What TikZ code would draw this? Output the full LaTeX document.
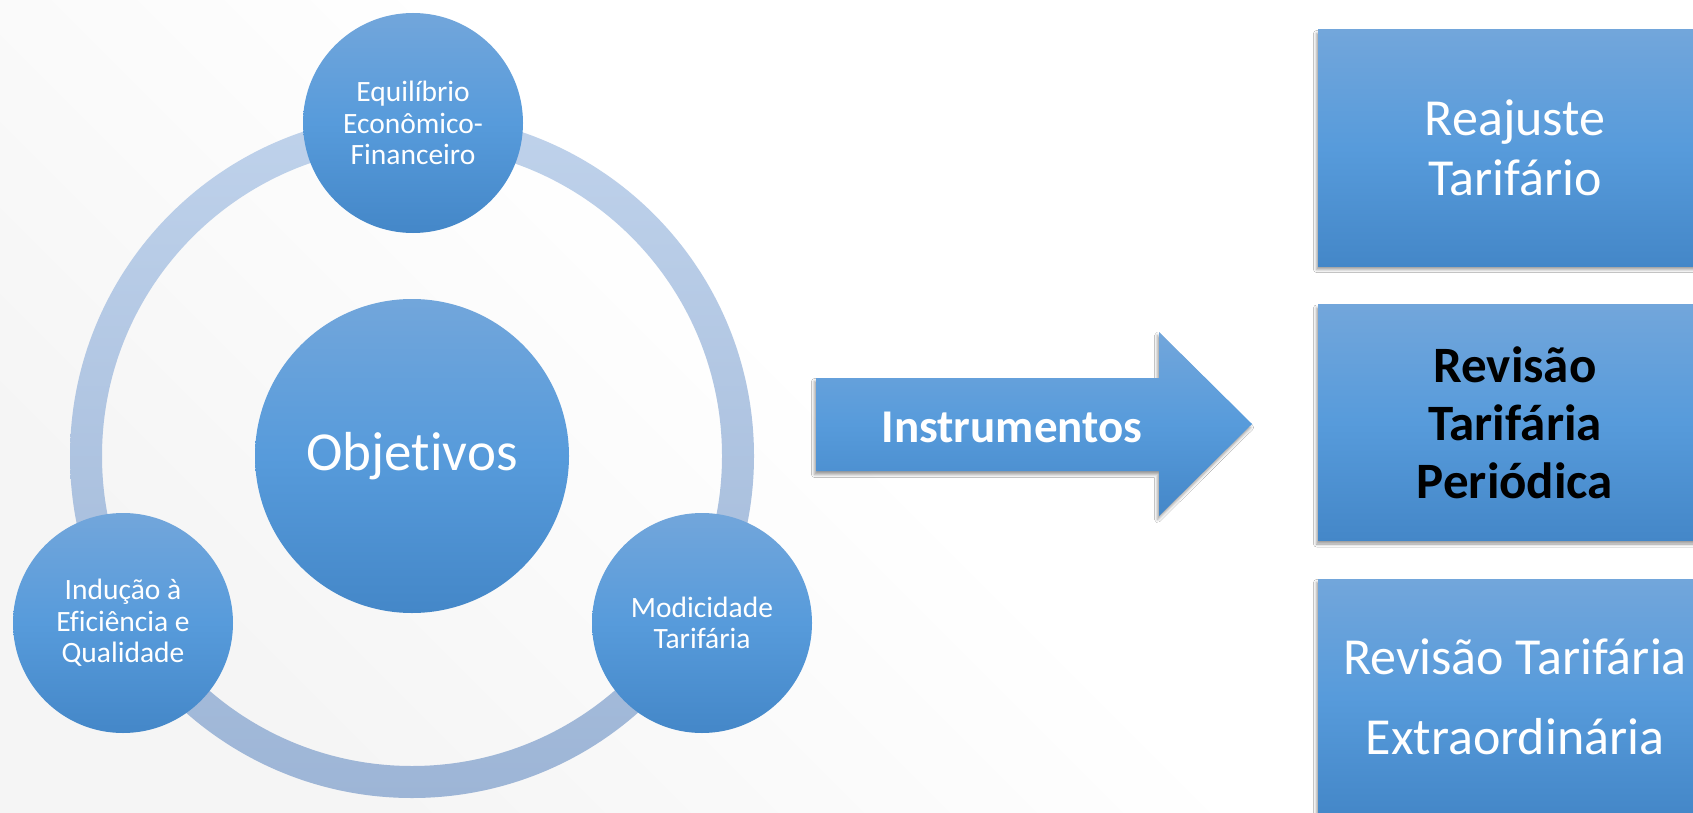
\documentclass[tikz,border=0pt]{standalone}
\usepackage{fontspec}
\setmainfont{Carlito}[Ligatures=NoCommon]
\usetikzlibrary{shadows,shadows.blur}
\definecolor{cTop}{HTML}{72A6DB}
\definecolor{cMid}{HTML}{579BDB}
\definecolor{cBot}{HTML}{4487C8}
\definecolor{rTop}{HTML}{BFD2EB}
\definecolor{rBot}{HTML}{9DB5D6}
\begin{document}
\begin{tikzpicture}[x=1pt,y=-1pt,
  blueshade/.style={top color=cTop, bottom color=cBot, middle color=cMid},
  bubble/.style={circle, blueshade, inner sep=0pt, minimum size=220pt, text=white,
    align=center, font=\fontsize{29.5}{31.5}\selectfont},
  hub/.style={circle, blueshade, inner sep=0pt, minimum size=314pt, text=white,
    font=\fontsize{55}{60}\selectfont},
  softshadow/.style={blur shadow={shadow xshift=-1.5pt, shadow yshift=-3.5pt,
    shadow blur radius=3pt, shadow opacity=40}},
  instbox/.style={rectangle, blueshade, softshadow, inner sep=0pt,
    minimum width=394pt, minimum height=236pt, align=center}
]
\useasboundingbox (0,0) rectangle (1693,813);
\shade[top color=white, bottom color=black!4, middle color=white, shading angle=-45]
  (0,0) rectangle (1693,813);

% ring
\coordinate (c) at (412,456);
\shade[top color=rTop, bottom color=rBot, even odd rule]
  (c) circle[radius=342] (c) circle[radius=310];

% hub and satellites
\node[hub] (obj) at (c) {Objetivos};
\node[bubble] (eq) at (413,123) {Equilíbrio\\Econômico-\\Financeiro};
\node[bubble] (ind) at (123,623) {Indução à\\Eficiência e\\Qualidade};
\node[bubble] (mod) at (702,623) {Modicidade\\Tarifária};

% arrow
\shade[blueshade, softshadow]
  (816,378) -- (1159,378) -- (1159,332) -- (1252,424) -- (1159,516)
  -- (1159,471) -- (816,471) -- cycle;
\node[anchor=base, text=white, font=\bfseries\fontsize{47}{50}\selectfont]
  (instr) at (1012,442) {Instrumentos};

% instrument boxes
\node[instbox, text=white, font=\fontsize{52}{60}\selectfont]
  (rea) at (1515,148) {Reajuste\\Tarifário};
\node[instbox, text=black, font=\bfseries\fontsize{51}{58}\selectfont]
  (rtp) at (1515,422.5) {Revisão\\Tarifária\\Periódica};
\node[instbox, text=white, font=\fontsize{52}{80}\selectfont]
  (rte) at (1515,697) {Revisão Tarifária\\Extraordinária};
\end{tikzpicture}
\end{document}
